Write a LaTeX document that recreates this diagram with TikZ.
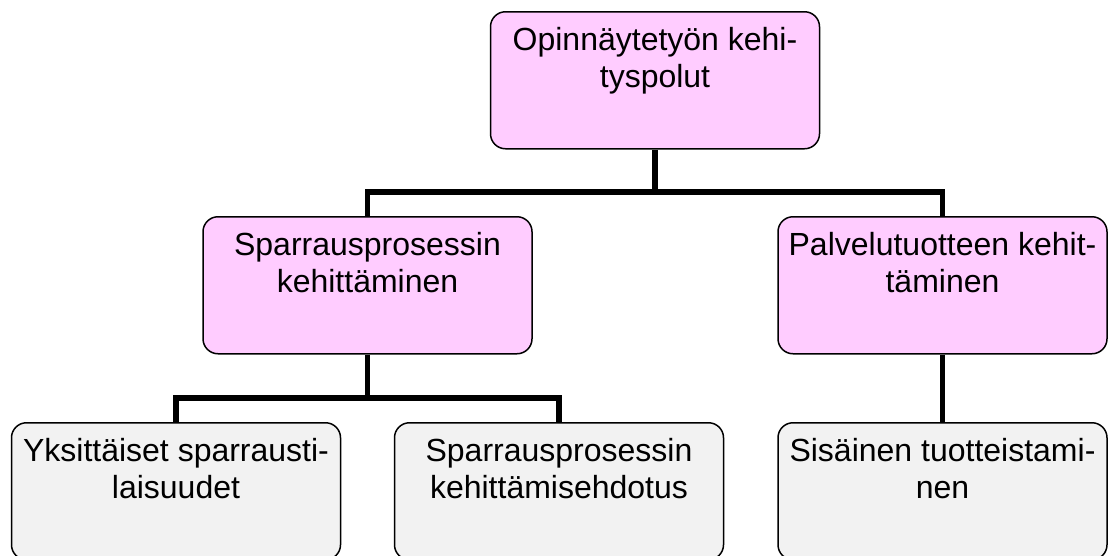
\documentclass[tikz,border=0pt]{standalone}
\usepackage{fontspec}
\setmainfont{Liberation Sans}
\definecolor{pinkbox}{RGB}{255,204,255}
\definecolor{graybox}{RGB}{242,242,242}
% text of a box: fixed-size frame, lines set from the top
\newcommand\boxtext[1]{\parbox[c][137pt][t]{322pt}{\centering\fontsize{32}{37}\selectfont\rule{0pt}{39pt}#1\par}}
\begin{document}
\begin{tikzpicture}[x=1pt,y=-1pt,
  box/.style={draw=black, line width=1.5pt, rounded corners=15pt, inner sep=0pt,
              minimum width=329pt, minimum height=137pt, anchor=north},
  mainbox/.style={box, fill=pinkbox},
  subbox/.style={box, fill=graybox},
  conn/.style={line width=5.5pt, line join=miter}]
\useasboundingbox (0,0) rectangle (1110,555);
\clip (0,0) rectangle (1110,555);

% hierarchy boxes
\node[mainbox] (root)  at (655,11)    {\boxtext{Opinnäytetyön kehi-\\tyspolut}};
\node[mainbox] (sparr) at (367.5,216) {\boxtext{Sparrausprosessin\\kehittäminen}};
\node[mainbox] (palv)  at (942.5,216) {\boxtext{Palvelutuotteen kehit-\\täminen}};
\node[subbox]  (yks)   at (176,422)   {\boxtext{Yksittäiset sparrausti-\\laisuudet}};
\node[subbox]  (ehd)   at (559,422)   {\boxtext{Sparrausprosessin\\kehittämisehdotus}};
\node[subbox]  (sis)   at (942.5,422) {\boxtext{Sisäinen tuotteistami-\\nen}};

% connectors
\coordinate (bus1) at (655,192);
\coordinate (bus2) at (367.5,398);
\draw[conn] (root.south) -- (bus1);
\draw[conn] (sparr.north) |- (bus1) -| (palv.north);
\draw[conn] (sparr.south) -- (bus2);
\draw[conn] (yks.north) |- (bus2) -| (ehd.north);
\draw[conn] (palv.south) -- (sis.north);
\end{tikzpicture}
\end{document}
